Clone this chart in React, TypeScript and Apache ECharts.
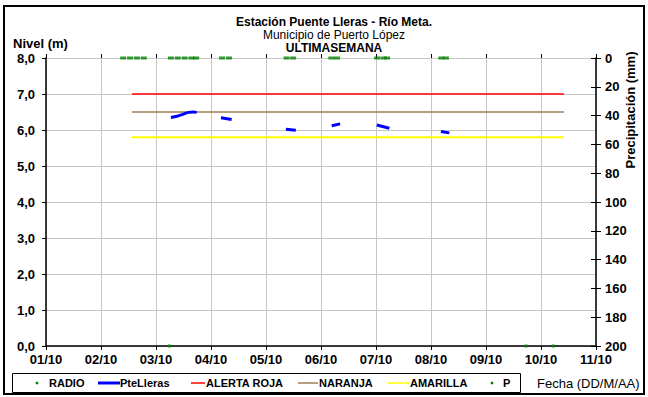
import React, { useEffect, useRef } from "react";
import * as echarts from "echarts";

const title1 = "Estación Puente Lleras - Río Meta.";
const title2 = "Municipio de Puerto López";
const title3 = "ULTIMASEMANA";
const xStart = "2019-10-01 00:00";
const xEnd = "2019-10-11 00:00";

// PteLleras level (m), segments separated by gaps
const levelSeg1: [string, number][] = [["2019-10-03 06:30", 6.35], ["2019-10-03 09:10", 6.38], ["2019-10-03 12:00", 6.44], ["2019-10-03 14:10", 6.49], ["2019-10-03 16:20", 6.5], ["2019-10-03 17:45", 6.49]];
const levelSeg2: [string, number][] = [["2019-10-04 04:20", 6.34], ["2019-10-04 09:00", 6.29]];
const levelSeg3: [string, number][] = [["2019-10-05 08:40", 6.02], ["2019-10-05 13:00", 5.99]];
const levelSeg4: [string, number][] = [["2019-10-06 04:40", 6.12], ["2019-10-06 08:20", 6.17]];
const levelSeg5: [string, number][] = [["2019-10-07 00:20", 6.14], ["2019-10-07 05:50", 6.05]];
const levelSeg6: [string, number][] = [["2019-10-08 04:20", 5.96], ["2019-10-08 08:00", 5.92]];

// thresholds
const alertStart = "2019-10-02 13:30";
const alertEnd = "2019-10-10 10:00";
const alertaRoja = 7.0;
const naranja = 6.5;
const amarilla = 5.8;

// RADIO readings (value 0)
const radioTimes = ["2019-10-03 05:50", "2019-10-09 17:30", "2019-10-10 05:20"];
const radioValues = [0, 0, 0];

// P (precipitation, mm) readings, all 0
const pTimes = [
  "2019-10-02 09:40", "2019-10-02 12:40", "2019-10-02 15:40", "2019-10-02 18:40",
  "2019-10-03 06:30", "2019-10-03 09:30", "2019-10-03 12:30", "2019-10-03 15:30", "2019-10-03 17:30",
  "2019-10-04 04:50", "2019-10-04 07:50",
  "2019-10-05 09:00", "2019-10-05 11:50",
  "2019-10-06 04:30", "2019-10-06 07:00",
  "2019-10-07 00:30", "2019-10-07 03:15", "2019-10-07 04:50",
  "2019-10-08 04:30", "2019-10-08 06:30",
];
const pValues = [0, 0, 0, 0, 0, 0, 0, 0, 0, 0, 0, 0, 0, 0, 0, 0, 0, 0, 0, 0];

const t = (s: string) => {
  const [d, h] = s.split(" ");
  const [Y, M, D] = d.split("-").map(Number);
  const [hh, mm] = (h || "00:00").split(":").map(Number);
  return Date.UTC(Y, M - 1, D, hh, mm);
};
const pad = (n: number) => (n < 10 ? "0" + n : "" + n);
const FONT = "'Liberation Sans', Arial, sans-serif";
const GREEN = "#008000";
const BROWN = "#a37b55";

export default function App() {
  const ref = useRef<HTMLDivElement>(null);
  useEffect(() => {
    if (!ref.current) return;
    const chart = echarts.init(ref.current, null, { renderer: "svg" });

    const levelData: any[] = [];
    [levelSeg1, levelSeg2, levelSeg3, levelSeg4, levelSeg5, levelSeg6].forEach((seg, i) => {
      if (i > 0) levelData.push([t(seg[0][0]) - 60000, "-"]);
      seg.forEach(([s, v]) => levelData.push([t(s), v]));
    });
    const pData = pTimes.map((s, i) => [t(s), pValues[i]]);
    const radioData = radioTimes.map((s, i) => [t(s), radioValues[i]]);
    const thr = (v: number) => [[t(alertStart), v], [t(alertEnd), v]];

    const legendY = 383;
    const lt = (x: number, text: string) => ({
      type: "text", x, y: legendY,
      style: { text, font: `bold 11px ${FONT}`, fill: "#000", verticalAlign: "middle", textAlign: "left" },
    });
    const ll = (x1: number, x2: number, color: string, w: number) => ({
      type: "line", shape: { x1, y1: legendY, x2, y2: legendY }, style: { stroke: color, lineWidth: w },
    });
    const ld = (x: number) => ({ type: "rect", shape: { x: x - 1.25, y: legendY - 1.25, width: 2.5, height: 2.5 }, style: { fill: GREEN } });
    const labelStyle = { color: "#000", fontWeight: "bold", fontSize: 13, fontFamily: FONT };

    chart.setOption({
      animation: false,
      backgroundColor: "#fff",
      grid: { left: 46, right: 52, top: 58, bottom: 51, containLabel: false },
      xAxis: [
        {
          type: "value", min: t(xStart), max: t(xEnd), interval: 86400000, position: "bottom",
          axisLine: { lineStyle: { color: "#000", width: 1.5 } },
          axisTick: { show: true, length: 4, lineStyle: { color: "#000" } },
          axisLabel: {
            ...labelStyle, margin: 7,
            formatter: (v: number) => { const d = new Date(v); return pad(d.getUTCDate()) + "/" + pad(d.getUTCMonth() + 1); },
          },
          splitLine: { show: true, lineStyle: { color: "#c6c6c6", width: 1 } },
        },
        {
          type: "value", min: t(xStart), max: t(xEnd), interval: 86400000, position: "bottom", offset: 0,
          axisLine: { show: false }, axisLabel: { show: false }, splitLine: { show: false },
          axisTick: { show: true, inside: true, length: 4, lineStyle: { color: "#000" } },
        },
      ],
      yAxis: [
        {
          type: "value", min: 0, max: 8, interval: 1, position: "left",
          axisLine: { show: true, lineStyle: { color: "#000", width: 1.5 } },
          axisTick: { show: true, length: 4, lineStyle: { color: "#000" } },
          axisLabel: { ...labelStyle, margin: 11, formatter: (v: number) => v.toFixed(1).replace(".", ",") },
          splitLine: { show: true, lineStyle: { color: "#c6c6c6", width: 1 } },
        },
        {
          type: "value", min: 0, max: 200, interval: 20, position: "right", inverse: true,
          axisLine: { show: true, lineStyle: { color: "#000", width: 1.5 } },
          axisTick: { show: true, length: 5, lineStyle: { color: "#000" } },
          axisLabel: { ...labelStyle, margin: 9 },
          splitLine: { show: false },
        },
        {
          type: "value", min: 0, max: 200, interval: 20, position: "right", inverse: true,
          axisLine: { show: false }, axisLabel: { show: false }, splitLine: { show: false },
          axisTick: { show: true, inside: true, length: 5, lineStyle: { color: "#000" } },
        },
      ],
      series: [
        { name: "ALERTA ROJA", type: "line", data: thr(alertaRoja), symbol: "none", lineStyle: { color: "#ff0000", width: 1.5 }, z: 2 },
        { name: "NARANJA", type: "line", data: thr(naranja), symbol: "none", lineStyle: { color: BROWN, width: 1.5 }, z: 2 },
        { name: "AMARILLA", type: "line", data: thr(amarilla), symbol: "none", lineStyle: { color: "#ffff00", width: 2 }, z: 2 },
        { name: "PteLleras", type: "line", data: levelData, symbol: "none", connectNulls: false, smooth: 0.3, lineStyle: { color: "#0000ff", width: 3 }, z: 3 },
        { name: "RADIO", type: "scatter", data: radioData, symbol: "rect", symbolSize: [3, 3], itemStyle: { color: GREEN }, z: 4 },
        { name: "P", type: "scatter", yAxisIndex: 1, data: pData, symbol: "rect", symbolSize: [6, 3], itemStyle: { color: GREEN }, z: 4 },
      ],
      graphic: [
        { type: "rect", shape: { x: 4, y: 6, width: 640, height: 388 }, style: { fill: "none", stroke: "#000", lineWidth: 2 }, silent: true },
        { type: "text", x: 334, y: 22, style: { text: title1, font: `bold 12px ${FONT}`, fill: "#000", textAlign: "center", verticalAlign: "middle" } },
        { type: "text", x: 334, y: 35, style: { text: title2, font: `12px ${FONT}`, fill: "#000", textAlign: "center", verticalAlign: "middle" } },
        { type: "text", x: 334, y: 48, style: { text: title3, font: `bold 12px ${FONT}`, fill: "#000", textAlign: "center", verticalAlign: "middle" } },
        { type: "text", x: 13, y: 43, style: { text: "Nivel (m)", font: `bold 13px ${FONT}`, fill: "#000", textAlign: "left", verticalAlign: "middle" } },
        { type: "text", x: 630, y: 110, rotation: Math.PI / 2, style: { text: "Precipitación (mm)", font: `bold 13px ${FONT}`, fill: "#000", textAlign: "center", verticalAlign: "middle" } },
        { type: "rect", shape: { x: 12.5, y: 373.5, width: 508, height: 19 }, style: { fill: "#fff", stroke: "#000", lineWidth: 1 } },
        ld(37), lt(49, "RADIO"),
        ll(98, 120, "#0000ff", 3), lt(120, "PteLleras"),
        ll(191, 205, "#ff0000", 1.5), lt(206, "ALERTA ROJA"),
        ll(298, 318, BROWN, 1.5), lt(319, "NARANJA"),
        ll(388, 409, "#ffff00", 1.5), lt(410, "AMARILLA"),
        ld(492), lt(503, "P"),
        { type: "text", x: 537, y: 383, style: { text: "Fecha (DD/M/AA)", font: `13px ${FONT}`, fill: "#000", textAlign: "left", verticalAlign: "middle" } },
      ],
    });
    return () => chart.dispose();
  }, []);
  return <div ref={ref} style={{ position: "fixed", left: 0, top: 0, width: 648, height: 397, background: "#fff" }} />;
}
